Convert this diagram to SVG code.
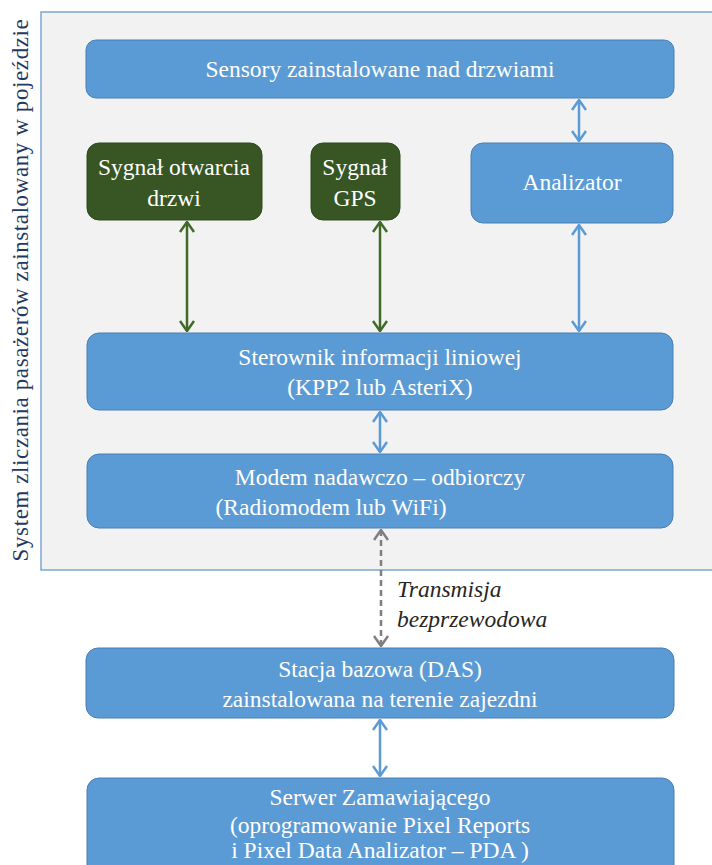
<svg xmlns="http://www.w3.org/2000/svg" width="712" height="865" viewBox="0 0 712 865">
<style>
.box{fill:#5b9bd5;stroke:#4a7fb5;stroke-width:1}
.gbox{fill:#375623;stroke:#2e4a1c;stroke-width:1}
.t{font-family:'Liberation Serif','DejaVu Serif',serif;font-size:23.5px;fill:#ffffff;text-anchor:middle}
.ab{stroke:#5b9bd5;stroke-width:2.5;fill:none}
.ag{stroke:#3f6a28;stroke-width:2.5;fill:none}
.ad{stroke:#7f7f7f;stroke-width:2.5;fill:none;stroke-dasharray:6,4}
.lbl{font-family:'Liberation Serif','DejaVu Serif',serif;font-size:23.5px;font-style:italic;fill:#262626}
.vt{font-family:'Liberation Serif','DejaVu Serif',serif;font-size:23px;fill:#1f3864;text-anchor:middle}
</style>
<defs>
<marker id="mb" viewBox="0 0 12 16" refX="11" refY="8" markerWidth="12" markerHeight="16" markerUnits="userSpaceOnUse" orient="auto-start-reverse"><path d="M1,1 L11,8 L1,15" fill="none" stroke="#5b9bd5" stroke-width="2.5"/></marker>
<marker id="mg" viewBox="0 0 12 16" refX="11" refY="8" markerWidth="12" markerHeight="16" markerUnits="userSpaceOnUse" orient="auto-start-reverse"><path d="M1,1 L11,8 L1,15" fill="none" stroke="#3f6a28" stroke-width="2.5"/></marker>
<marker id="md" viewBox="0 0 12 16" refX="11" refY="8" markerWidth="12" markerHeight="16" markerUnits="userSpaceOnUse" orient="auto-start-reverse"><path d="M1,1 L11,8 L1,15" fill="none" stroke="#7f7f7f" stroke-width="2.5"/></marker>
</defs>
<rect width="712" height="865" fill="#ffffff"/>
<g id="container">
<rect x="41" y="12" width="680" height="558" fill="#f2f2f2" stroke="#7ea6d0" stroke-width="1.5"/>
<text class="vt" transform="translate(28,290) rotate(-90)" letter-spacing="0.6">System zliczania pasażerów zainstalowany w pojeździe</text>
</g>
<g id="connectors">
<line class="ab" x1="579" y1="100" x2="579" y2="141" marker-start="url(#mb)" marker-end="url(#mb)"/>
<line class="ag" x1="187" y1="222" x2="187" y2="331" marker-start="url(#mg)" marker-end="url(#mg)"/>
<line class="ag" x1="380" y1="222" x2="380" y2="331" marker-start="url(#mg)" marker-end="url(#mg)"/>
<line class="ab" x1="579" y1="225" x2="579" y2="331" marker-start="url(#mb)" marker-end="url(#mb)"/>
<line class="ab" x1="380" y1="412" x2="380" y2="452" marker-start="url(#mb)" marker-end="url(#mb)"/>
<line class="ad" x1="381" y1="530" x2="381" y2="646" marker-start="url(#md)" marker-end="url(#md)"/>
<line class="ab" x1="380" y1="720" x2="380" y2="776" marker-start="url(#mb)" marker-end="url(#mb)"/>
<text class="lbl" x="397" y="597">Transmisja</text>
<text class="lbl" x="397" y="627">bezprzewodowa</text>
</g>
<g id="sensory">
<rect class="box" x="86" y="40" width="588" height="58" rx="10"/>
<text class="t" x="380" y="77">Sensory zainstalowane nad drzwiami</text>
</g>
<g id="sygnal-drzwi">
<rect class="gbox" x="87" y="143" width="175" height="77" rx="12"/>
<text class="t" x="174" y="175">Sygnał otwarcia</text>
<text class="t" x="174" y="206">drzwi</text>
</g>
<g id="sygnal-gps">
<rect class="gbox" x="311" y="143" width="89" height="77" rx="12"/>
<text class="t" x="355" y="175">Sygnał</text>
<text class="t" x="355" y="206">GPS</text>
</g>
<g id="analizator">
<rect class="box" x="471" y="143" width="202" height="80" rx="12"/>
<text class="t" x="572" y="190">Analizator</text>
</g>
<g id="sterownik">
<rect class="box" x="87" y="333" width="586" height="77" rx="12"/>
<text class="t" x="380" y="365">Sterownik informacji liniowej</text>
<text class="t" x="380" y="395">(KPP2 lub AsteriX)</text>
</g>
<g id="modem">
<rect class="box" x="87" y="454" width="586" height="74" rx="12"/>
<text class="t" x="380" y="485">Modem nadawczo – odbiorczy</text>
<text class="t" x="331" y="515">(Radiomodem  lub WiFi)</text>
</g>
<g id="stacja">
<rect class="box" x="86" y="648" width="588" height="70" rx="12"/>
<text class="t" x="380" y="677">Stacja bazowa (DAS)</text>
<text class="t" x="380" y="707">zainstalowana na terenie zajezdni</text>
</g>
<g id="serwer">
<rect class="box" x="87" y="778" width="587" height="100" rx="12"/>
<text class="t" x="380" y="805">Serwer Zamawiającego</text>
<text class="t" x="380" y="833">(oprogramowanie Pixel Reports</text>
<text class="t" x="380" y="858">i Pixel Data Analizator – PDA )</text>
</g>
</svg>
